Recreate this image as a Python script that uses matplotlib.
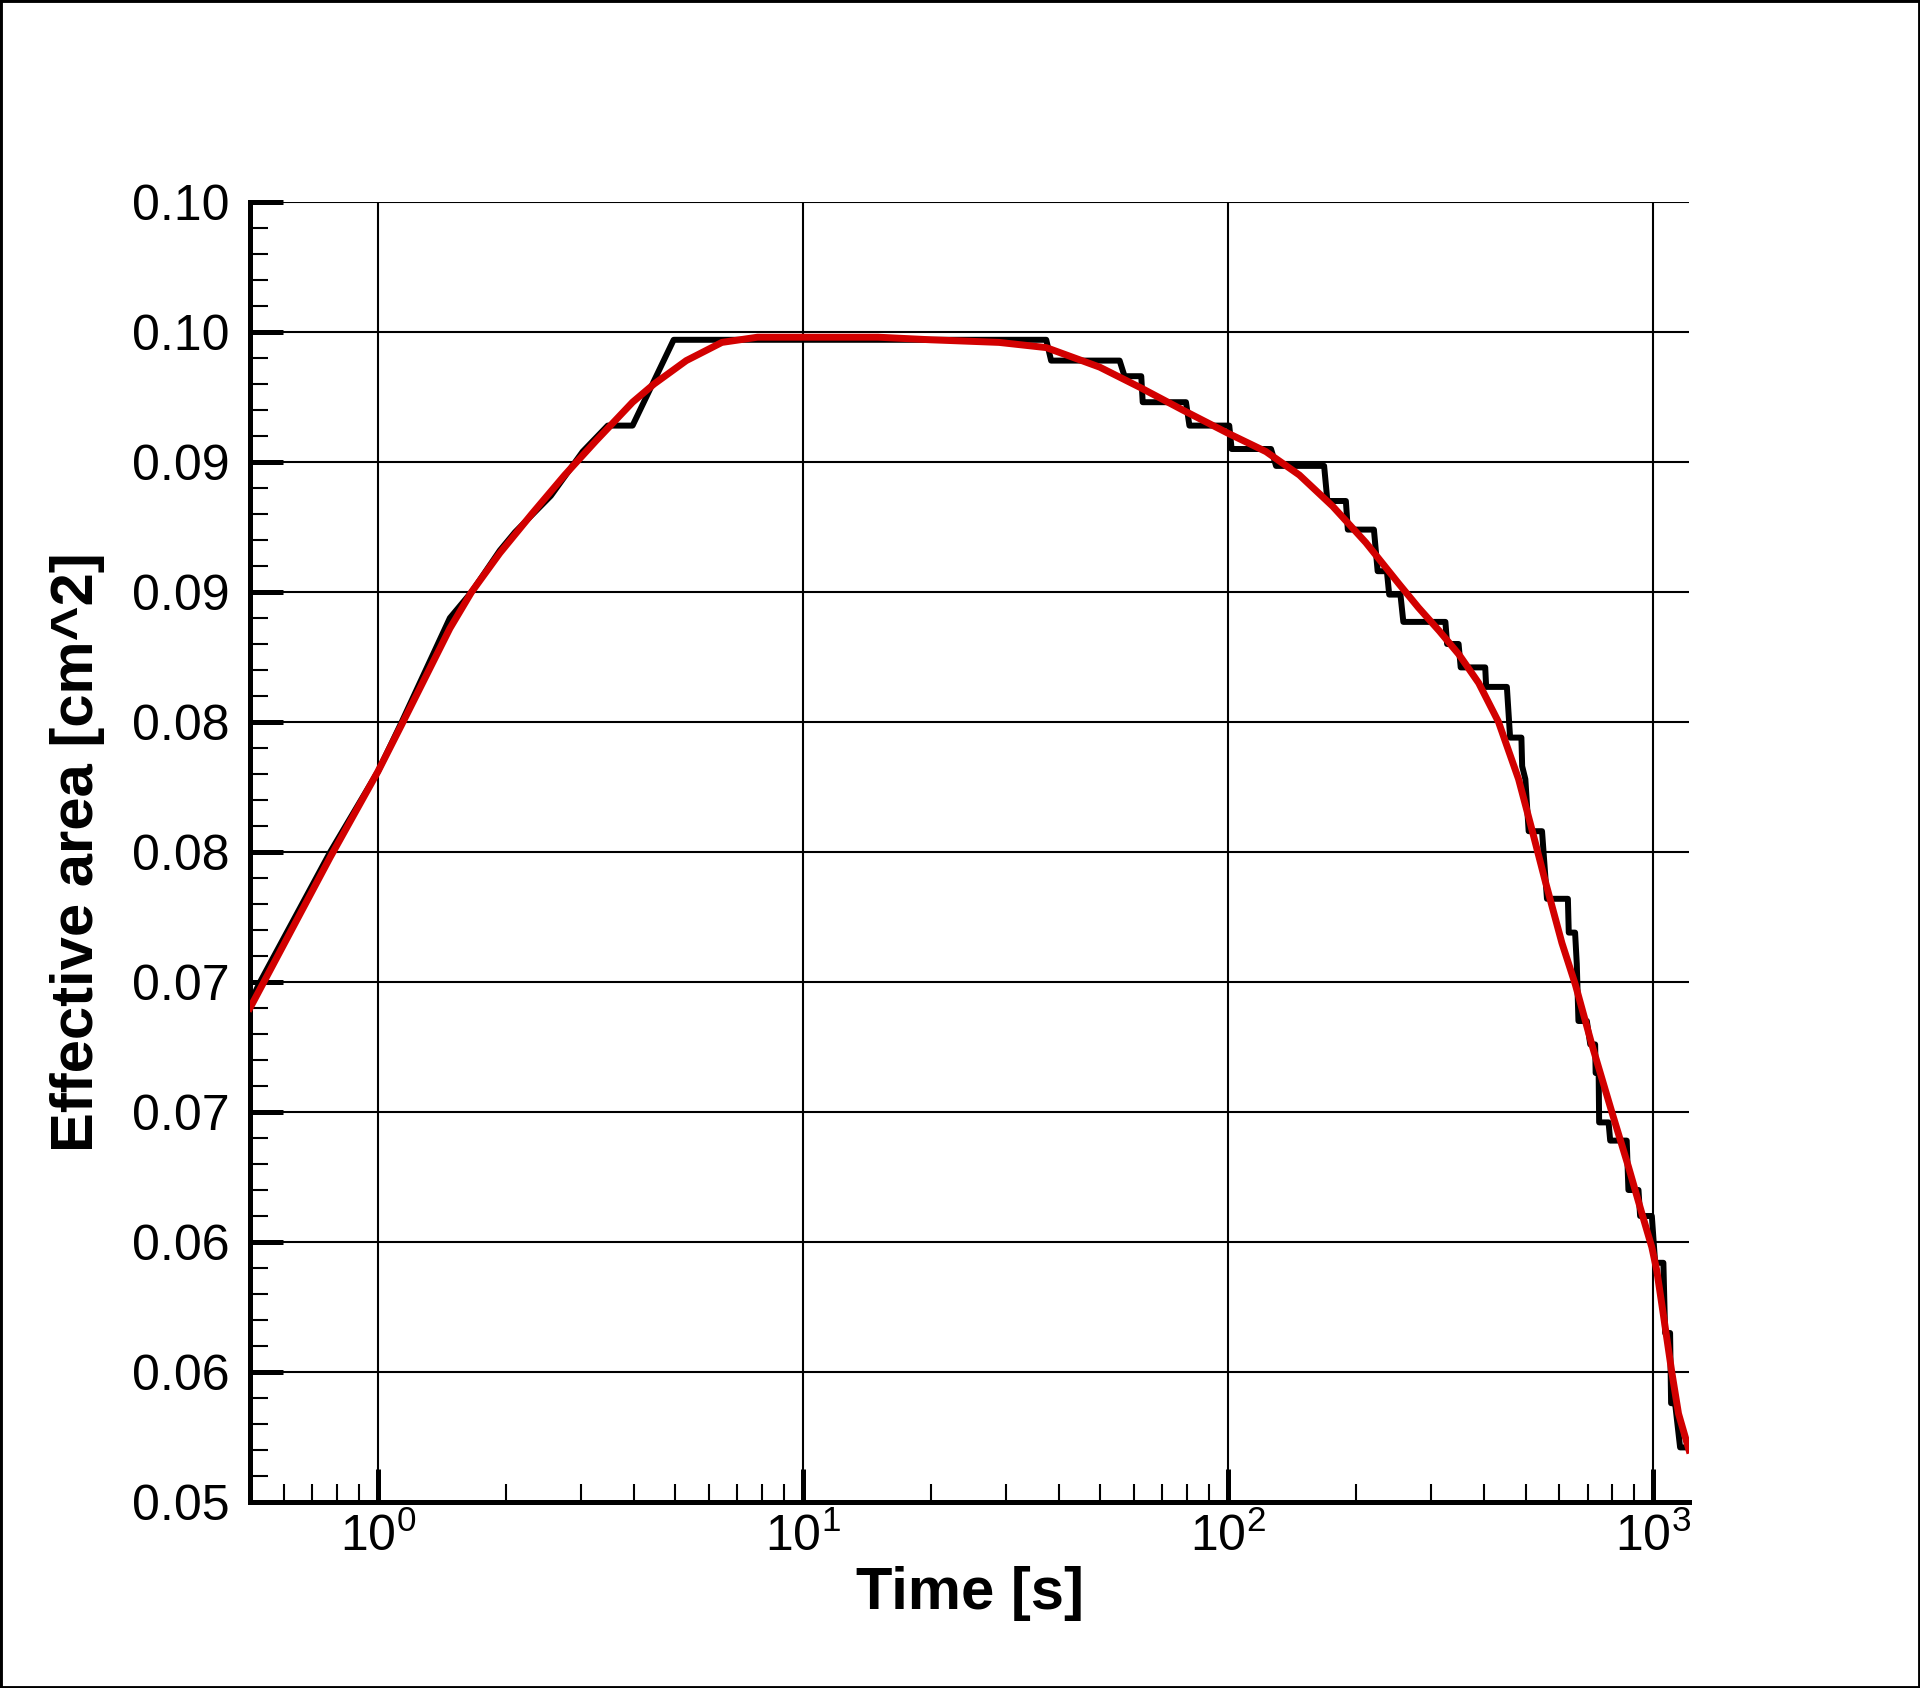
import matplotlib
matplotlib.use('Agg')
import matplotlib.pyplot as plt
from matplotlib.patches import Rectangle
from matplotlib.ticker import LogLocator, MultipleLocator, FixedLocator

plt.rcParams['font.family'] = ['Liberation Sans', 'DejaVu Sans']
plt.rcParams['mathtext.fontset'] = 'custom'
plt.rcParams['mathtext.rm'] = 'Liberation Sans'

# measured (stepped) effective area
time_meas = [0.5, 0.528, 0.772, 1.0, 1.137, 1.476, 1.66, 1.935, 2.10, 2.55, 3.03, 3.47, 3.97, 4.96,
             37.3, 38.3, 55.5, 57.0, 62.4, 62.9, 79.5, 81.0, 100.5, 101.8, 126, 129.5, 168, 171,
             189, 191, 220, 224.5, 236, 239, 254, 258, 324, 327, 348, 352, 402, 404, 452, 460,
             489, 491, 499.6, 508.6, 546.8, 561.6, 629, 632, 654, 660, 666, 697, 710, 729, 731,
             743, 745, 784, 791, 865, 873, 922, 930, 991, 1009, 1055, 1065, 1094, 1100, 1124,
             1155, 1212]
area_meas = [0.0692, 0.0700, 0.0750, 0.0781, 0.0800, 0.0840, 0.0850, 0.0866, 0.0873, 0.0887, 0.0904,
             0.0914, 0.0914, 0.0947,
             0.0947, 0.0939, 0.0939, 0.0933, 0.0933, 0.0923, 0.0923, 0.0914, 0.0914, 0.0905,
             0.0905, 0.08985, 0.08985, 0.0885, 0.0885, 0.0874, 0.0874, 0.0858, 0.0858, 0.0849,
             0.0849, 0.08385, 0.08385, 0.0830, 0.0830, 0.0821, 0.0821, 0.08135, 0.08135, 0.0794,
             0.0794, 0.0783, 0.0778, 0.0758, 0.0758, 0.0732, 0.0732, 0.0719, 0.0719, 0.0707,
             0.0685, 0.0685, 0.0676, 0.0676, 0.0665, 0.0665, 0.0646, 0.0646, 0.0639, 0.0639,
             0.0620, 0.0620, 0.0610, 0.0610, 0.0592, 0.0592, 0.0565, 0.0565, 0.0538, 0.0538,
             0.0521, 0.0521]

# smooth fit
time_fit = [0.5, 0.772, 1.0, 1.137, 1.3, 1.476, 1.66, 1.935, 2.3, 2.75, 3.25, 3.97, 4.46,
            5.31, 6.44, 7.81, 10, 15, 20, 28.9, 37.3, 49.8, 61.8, 78.1, 100, 122.6, 146.9, 175.9,
            210.6, 252.3, 280, 313.5, 348.5, 388, 432, 481.6, 517, 556, 609, 655, 716, 798,
            873, 939, 991, 1018, 1055, 1104, 1145, 1212]
area_fit = [0.0690, 0.0748, 0.0781, 0.0799, 0.0818, 0.0836, 0.0850, 0.0865, 0.0880, 0.0895,
            0.0908, 0.0923, 0.0930, 0.0939, 0.0946, 0.0948, 0.0948, 0.0948, 0.0947,
            0.0946, 0.0944, 0.09365, 0.09288, 0.0920, 0.0911, 0.0904, 0.0895, 0.0883, 0.0869,
            0.0853, 0.0844, 0.0835, 0.0826, 0.0815, 0.0800, 0.0778, 0.0759, 0.0739, 0.0715,
            0.0699, 0.0676, 0.0650, 0.0629, 0.0611, 0.0598, 0.0589, 0.0572, 0.0550, 0.0534,
            0.0520]

ytick_vals = [0.05, 0.055, 0.06, 0.065, 0.07, 0.075, 0.08, 0.085, 0.09, 0.095, 0.10]
ytick_labels = ['0.05', '0.06', '0.06', '0.07', '0.07', '0.08', '0.08', '0.09', '0.09', '0.10', '0.10']

fig = plt.figure(figsize=(19.2, 16.88), dpi=100)
ax = fig.add_axes([250 / 1920, 1 - 1502 / 1688, 1439 / 1920, 1300 / 1688])

ax.plot(time_meas, area_meas, color='black', lw=4.3, zorder=3)
ax.plot(time_fit, area_fit, color='#d20000', lw=5.0, zorder=4)

ax.set_xscale('log')
ax.set_xlim(0.5, 1212)
ax.set_ylim(0.05, 0.10)

ax.xaxis.set_major_locator(LogLocator(base=10))
ax.xaxis.set_minor_locator(LogLocator(base=10, subs=range(2, 10)))
ax.yaxis.set_major_locator(FixedLocator(ytick_vals))
ax.set_yticklabels(ytick_labels)
ax.yaxis.set_minor_locator(MultipleLocator(0.001))

ax.grid(True, which='major', color='black', lw=1.5)
ax.set_axisbelow(True)

for s in ['top', 'right']:
    ax.spines[s].set_visible(False)
for s in ['left', 'bottom']:
    ax.spines[s].set_linewidth(3.6)

ax.tick_params(which='major', direction='in', length=24, width=3.6, labelsize=36)
ax.tick_params(which='minor', direction='in', length=13, width=1.5)
ax.tick_params(axis='y', which='major', pad=15)
ax.tick_params(axis='x', which='major', pad=8)
ax.tick_params(top=False, right=False, which='both')

ax.set_xlabel('Time [s]', fontsize=43, fontweight='bold')
ax.set_ylabel('Effective area [cm^2]', fontsize=43, fontweight='bold')
ax.xaxis.set_label_coords(0.5, -0.049)
ax.yaxis.set_label_coords(-0.1005, 0.5)

fig.add_artist(Rectangle((0, 0), 1, 1, transform=fig.transFigure, fill=False,
                         edgecolor='black', linewidth=3.5))

plt.savefig('out.png', dpi=100)
